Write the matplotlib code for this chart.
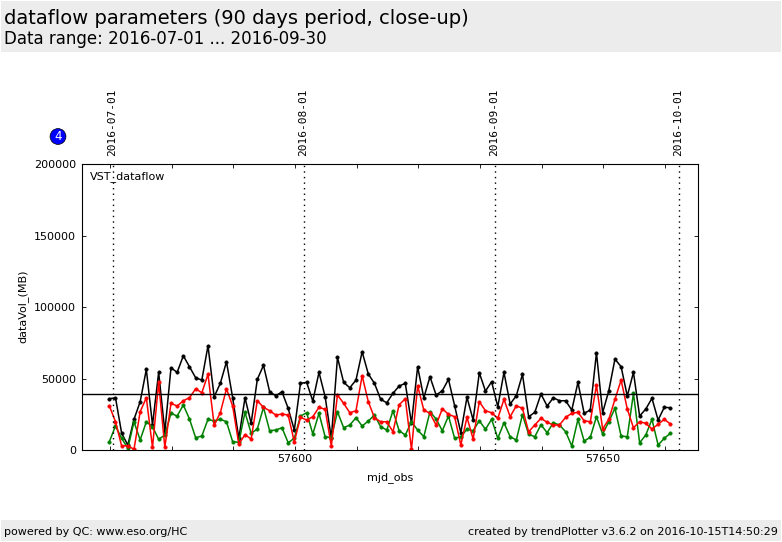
#!/usr/bin/env python3

import matplotlib
matplotlib.use('Agg')
import matplotlib.pyplot as plt
from matplotlib.patches import Rectangle
import numpy as np

mjd_start = 57569.9
black_k = [35.9, 36.6, 11.7, 3.5, 21.5, 33.8, 56.5, 17.5, 54.4, 12.8, 57.6, 54.4, 66.0, 58.3, 50.6, 49.0, 73.0, 37.3, 46.7, 61.8, 36.6, 8.2, 36.6, 18.7, 49.5, 59.3, 40.8, 38.0, 40.8, 29.2,
           14.0, 46.7, 47.4, 34.3, 54.4, 37.3, 8.2, 64.9, 47.4, 43.6, 49.0, 68.8, 53.2, 46.7, 35.5, 33.1, 39.7, 44.8, 46.7, 18.7, 58.3, 36.6, 51.3, 38.5, 41.5, 49.5, 31.0, 12.1, 36.9, 21.0, 54.1, 41.3, 47.8,
           30.3, 54.4, 32.2, 38.0, 53.0, 23.3, 26.4, 39.2, 30.8, 36.6, 34.5, 34.5, 28.0, 47.4, 25.7, 28.0, 68.1, 26.1, 41.5, 63.7, 58.3, 37.8, 54.4, 23.8, 28.7, 36.2, 21.0, 29.9, 29.6]
red_k = [31.0, 19.8, 2.8, 3.0, 0.5, 26.8, 36.6, 1.9, 47.4, 1.9, 32.7, 30.8, 34.5, 36.6, 42.9, 40.1, 53.0, 17.5, 26.1, 42.9, 30.8, 4.2, 10.7, 7.7, 34.5, 29.9, 27.5, 24.5, 25.2, 24.5,
         5.8, 22.9, 21.0, 23.3, 29.9, 28.5, 2.8, 38.5, 32.7, 26.1, 27.5, 52.0, 33.8, 22.6, 19.8, 19.8, 12.8, 31.7, 35.9, 0.5, 45.0, 28.0, 25.7, 17.5, 28.9, 25.0, 23.3, 3.5, 22.9, 7.7, 33.8, 27.5, 26.1,
         22.2, 35.5, 23.3, 31.0, 29.2, 12.8, 17.5, 22.2, 19.4, 17.5, 17.5, 22.9, 25.7, 26.4, 20.5, 19.8, 45.5, 14.7, 21.5, 35.5, 49.0, 28.7, 15.6, 19.8, 18.7, 14.7, 18.0, 21.5, 18.2]
green_k = [5.8, 16.8, 8.2, 1.2, 19.8, 7.0, 19.8, 16.3, 7.5, 10.5, 25.7, 23.8, 31.5, 21.7, 8.6, 9.8, 21.5, 20.3, 21.5, 19.8, 5.8, 5.4, 26.4, 11.7, 14.7, 29.9, 13.5, 14.0, 15.6, 5.1,
           8.2, 23.8, 26.1, 11.2, 25.7, 9.3, 8.6, 26.8, 15.6, 17.5, 22.6, 16.8, 20.3, 24.5, 16.3, 14.0, 27.5, 13.5, 10.5, 19.8, 14.0, 9.3, 26.8, 21.7, 13.5, 23.8, 8.2, 9.3, 14.5, 13.5, 20.5, 14.5, 21.5,
           8.2, 19.1, 9.3, 7.0, 24.7, 11.0, 9.3, 17.7, 12.1, 19.1, 17.5, 12.8, 2.8, 21.5, 6.3, 8.9, 23.3, 11.2, 19.8, 29.2, 9.8, 9.3, 39.7, 5.1, 10.5, 21.5, 3.5, 8.2, 11.7]
hline_val = 39000
month_mjd = [57570.5, 57601.5, 57632.5, 57662.3]
month_labels = ['2016-07-01', '2016-08-01', '2016-09-01', '2016-10-01']
y_ticks = [0, 50000, 100000, 150000, 200000]
x_ticks = list(range(57570, 57670, 10))
x_tick_labels = ['' if t % 50 else str(t) for t in x_ticks]

days = mjd_start + np.arange(len(black_k))

fig = plt.figure(figsize=(7.82, 5.42), dpi=100, facecolor='white')
W, H = 782., 542.
fig.add_artist(Rectangle((1/W, 1-52/H), 780/W, 51/H, transform=fig.transFigure, fc='#ececec', ec='none'))
fig.add_artist(Rectangle((1/W, 1/H), 780/W, 21/H, transform=fig.transFigure, fc='#ececec', ec='none'))

fig.text(4/W, 1-18/H, 'dataflow parameters (90 days period, close-up)', fontsize=14, va='center')
fig.text(4/W, 1-39.5/H, 'Data range: 2016-07-01 ... 2016-09-30', fontsize=12, va='center')
fig.text(4/W, 1-532/H, 'powered by QC: www.eso.org/HC', fontsize=8, va='center')
fig.text(778/W, 1-532/H, 'created by trendPlotter v3.6.2 on 2016-10-15T14:50:29', fontsize=8, va='center', ha='right')

ax = fig.add_axes([82.2/W, 1-450/H, 616/W, 285.5/H])
ax.plot(days, np.array(black_k)*1000, '-o', color='black', lw=1.1, ms=2.4, mew=0.5)
ax.plot(days, np.array(green_k)*1000, '-o', color='green', lw=1.1, ms=2.4, mew=0.5)
ax.plot(days, np.array(red_k)*1000, '-o', color='red', lw=1.1, ms=2.4, mew=0.5)
ax.axhline(hline_val, color='black', lw=1)
for m, lab in zip(month_mjd, month_labels):
    ax.axvline(m, color='black', lw=1, ls=(0, (1, 3)))
    ax.annotate(lab, (m, 1), xycoords=('data', 'axes fraction'), xytext=(-1, 6), textcoords='offset points',
                rotation=90, ha='center', va='bottom', fontsize=8, family='DejaVu Sans Mono')

ax.set_xlim(57565.5, 57665.4)
ax.set_ylim(0, 200000)
ax.set_xticks(x_ticks)
ax.set_xticklabels(x_tick_labels)
ax.set_yticks(y_ticks)
ax.tick_params(direction='in', top=True, right=True, length=3, width=0.6, labelsize=8, pad=3)
ax.tick_params(axis='y', pad=4.5)
ax.set_xlabel('mjd_obs', fontsize=8, labelpad=6)
ax.set_ylabel('dataVol_(MB)', fontsize=8, labelpad=4, y=0.502)
ax.text(90/W, 1-177/H, 'VST_dataflow', fontsize=8, va='center', transform=fig.transFigure)

fig.text(58/W, 1-136.5/H, '4', color='white', fontsize=8.5, ha='center', va='center',
         bbox=dict(boxstyle='circle,pad=0.12', fc='blue', ec='black', lw=0.5))

fig.savefig('out.png', dpi=100)
